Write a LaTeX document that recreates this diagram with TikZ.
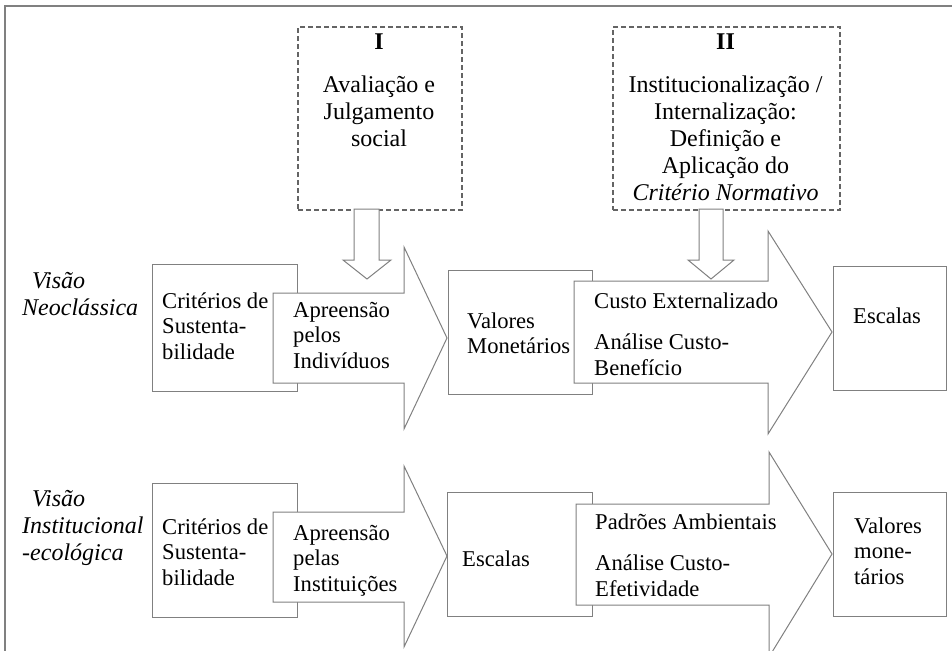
\documentclass[tikz,border=0pt]{standalone}
\usepackage{fontspec}
\setmainfont{Liberation Serif}
\definecolor{lg}{RGB}{128,128,128}
\definecolor{dg}{RGB}{100,100,100}
\newcommand{\strutA}{\rule{0pt}{17pt}}
\newcommand{\strutB}{\rule{0pt}{18pt}}
\tikzset{
  box/.style={draw=lg, line width=1pt, fill=white, inner sep=0pt, anchor=north west},
  bigarrow/.style={draw=lg, line width=1pt, fill=white, line join=miter},
  dbox/.style={draw=dg, line width=2.3pt, dash pattern=on 5pt off 3pt, inner sep=0pt, anchor=north west},
  body/.style={inner sep=0pt, anchor=north west, align=left, font=\fontsize{22.6}{25.5}\selectfont},
  big/.style={inner sep=0pt, anchor=north, align=center, font=\fontsize{24}{27}\selectfont},
  lab/.style={inner sep=0pt, anchor=north west, align=left, font=\fontsize{24}{27}\selectfont\itshape},
}
\begin{document}
\begin{tikzpicture}[x=1pt,y=-1pt]
\useasboundingbox (0,0) rectangle (952,650);
% frame
\draw[lg, line width=1.5pt] (5,670) -- (5,6) -- (970,6);
% dashed boxes
\node[dbox, minimum width=164pt, minimum height=183pt] (bI) at (297,26) {};
\node[dbox, minimum width=227pt, minimum height=183pt] (bII) at (612,26) {};
\node[big] (tI) at (379,31) {\strutB\textbf{I}\\[16pt]Avaliação e\\Julgamento\\social};
\node[big] (tII) at (725.5,31) {\strutB\textbf{II}\\[16pt]Institucionalização /\\Internalização:\\Definição e\\Aplicação do\\\textit{Critério Normativo}};
% boxes
\node[box, minimum width=145pt, minimum height=127pt] (critA) at (152,264) {};
\node[box, minimum width=144pt, minimum height=124pt] (valA) at (448,270) {};
\node[box, minimum width=113pt, minimum height=124pt] (escA) at (833,266) {};
\node[box, minimum width=145pt, minimum height=134pt] (critB) at (152,483) {};
\node[box, minimum width=145pt, minimum height=124pt] (escB) at (447,492) {};
\node[box, minimum width=113pt, minimum height=124pt] (valB) at (833,492) {};
% big arrows
\draw[bigarrow] (273,293) -- (404,293) -- (404,247) -- (447,338) -- (404,429) -- (404,383) -- (273,383) -- cycle;
\draw[bigarrow] (574,281) -- (768,281) -- (768,231) -- (832,332) -- (768,434) -- (768,383) -- (574,383) -- cycle;
\draw[bigarrow] (273,512) -- (404,512) -- (404,466) -- (447,556) -- (404,647) -- (404,602) -- (273,602) -- cycle;
\draw[bigarrow] (576,504) -- (769,504) -- (769,452) -- (832,554) -- (769,657) -- (769,605) -- (576,605) -- cycle;
% down arrows
\draw[bigarrow] (354,209) -- (379,209) -- (379,260) -- (391,260) -- (367,279) -- (343,260) -- (354,260) -- cycle;
\draw[bigarrow] (699,209) -- (723,209) -- (723,260) -- (734,260) -- (711,279) -- (688,260) -- (699,260) -- cycle;
% labels
\node[lab] (labA) at (22,270) {\strutB\hspace*{10pt}Visão\\Neoclássica};
\node[lab] (labB) at (22,488) {\strutB\hspace*{10pt}Visão\\Institucional\\-ecológica};
% texts
\node[body] (critAt) at (162,291) {\strutA Critérios de\\Sustenta-\\bilidade};
\node[body] (apreAt) at (293,300) {\strutA Apreensão\\pelos\\Indivíduos};
\node[body] (valAt) at (467,311) {\strutA Valores\\Monetários};
\node[body] (custoAt) at (594,291) {\strutA Custo Externalizado\\[16pt]Análise Custo-\\Benefício};
\node[body] (escAt) at (853,306) {\strutA Escalas};
\node[body] (critBt) at (162,517) {\strutA Critérios de\\Sustenta-\\bilidade};
\node[body] (apreBt) at (293,523) {\strutA Apreensão\\pelas\\Instituições};
\node[body] (escBt) at (462,549) {\strutA Escalas};
\node[body] (padBt) at (595,512) {\strutA Padrões Ambientais\\[16pt]Análise Custo-\\Efetividade};
\node[body] (valBt) at (854,516) {\strutA Valores\\mone-\\tários};
\end{tikzpicture}
\end{document}
